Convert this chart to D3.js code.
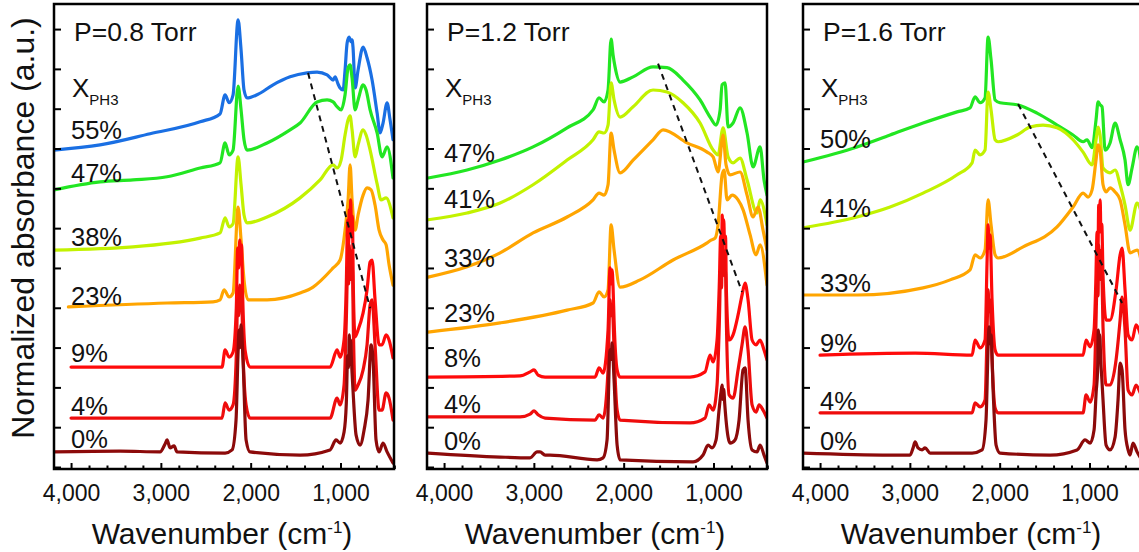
<!DOCTYPE html>
<html>
<head>
<meta charset="utf-8">
<script src="https://cdn.jsdelivr.net/npm/d3@7"></script>
<style>
  html, body { margin: 0; padding: 0; background: #ffffff; }
  svg { display: block; font-family: Arial, "Liberation Sans", sans-serif; }
</style>
</head>
<body>
<svg id="chart" width="1139" height="552"></svg>
<script>
// ---------- data: FTIR spectra, [wavenumber (cm-1), normalized absorbance + offset] ----------

// Common axis settings
const wavenumberDomain = [4190, 404];
const majorTicks = [4000, 3000, 2000, 1000];
const minorTicks = d3.range(4000, 399, -200);
const absorbanceTicks = d3.range(0, 12);

const pressureLabels = ["P=0.8 Torr", "P=1.2 Torr", "P=1.6 Torr"];

// ---- P = 0.8 Torr ----
const p08Fractions = ["55%", "47%", "38%", "23%", "9%", "4%", "0%"];
const p08LabelLevels = [8.24, 7.16, 5.55, 4.07, 2.64, 1.31, 0.48];
const p08_55 = [[4189,7.96],[3677,8.09],[3120,8.37],[2563,8.67],[2341,8.87],[2285,9.35],[2240,9.15],[2196,9.35],[2140,11.23],[2107,10.48],[2074,9.47],[2040,9.27],[1929,9.35],[1750,9.60],[1561,9.80],[1372,9.90],[1261,9.92],[1149,9.85],[1082,9.72],[1060,9.80],[1027,9.62],[1004,9.52],[971,9.47],[949,9.97],[926,10.65],[904,10.80],[882,10.68],[871,10.73],[860,10.53],[837,9.52],[804,9.97],[748,10.55],[704,10.28],[648,9.72],[592,8.89],[559,8.39],[526,8.64],[481,9.15],[448,8.72],[415,8.22]];
const p08_47 = [[4189,6.96],[3677,7.16],[3310,7.21],[2931,7.29],[2563,7.51],[2341,7.64],[2285,8.14],[2240,7.84],[2196,7.96],[2140,9.57],[2107,8.97],[2074,8.22],[2040,7.96],[1817,8.14],[1561,8.47],[1450,8.64],[1261,9.17],[1149,9.22],[1082,9.17],[1038,9.05],[993,8.97],[949,9.35],[915,10.03],[893,10.10],[871,9.77],[837,8.97],[804,9.22],[748,9.60],[715,9.47],[670,8.97],[592,8.39],[537,7.79],[481,8.04],[415,7.26]];
const p08_38 = [[4189,5.45],[3310,5.53],[2563,5.75],[2341,5.88],[2285,6.26],[2240,6.03],[2196,6.11],[2140,7.79],[2107,7.09],[2074,6.33],[2040,6.13],[1817,6.28],[1450,6.76],[1227,7.21],[1082,7.59],[1038,7.51],[993,7.71],[949,8.34],[915,8.72],[893,8.82],[871,8.47],[837,7.79],[804,8.09],[748,8.47],[715,8.34],[670,7.96],[592,7.11],[548,6.71],[492,6.76],[415,6.26]];
const p08_23 = [[4030,4.02],[2931,4.12],[2419,4.15],[2341,4.20],[2296,4.45],[2240,4.27],[2196,4.37],[2140,6.53],[2107,5.70],[2074,4.70],[2029,4.20],[1817,4.20],[1450,4.37],[1305,4.52],[1082,5.00],[1004,5.20],[949,5.95],[915,6.71],[893,7.59],[871,6.71],[837,5.95],[804,6.33],[748,6.83],[704,7.01],[659,6.96],[615,6.58],[570,5.95],[526,5.70],[492,5.58],[459,5.08],[415,4.57]];
const p08_9 = [[4000,2.51],[3120,2.51],[2319,2.51],[2285,2.94],[2240,2.76],[2196,2.89],[2160,4.00],[2145,5.50],[2133,5.00],[2122,5.70],[2112,5.20],[2102,5.58],[2088,4.20],[2060,2.90],[2007,2.51],[1116,2.51],[1038,2.94],[1004,2.76],[960,3.19],[935,4.60],[920,6.20],[910,5.60],[902,6.46],[894,5.80],[886,6.71],[878,5.90],[868,6.30],[856,4.40],[837,3.27],[804,3.44],[748,3.87],[704,4.45],[670,5.15],[648,5.20],[615,4.20],[570,3.07],[537,3.07],[492,3.32],[459,3.19],[415,2.74]];
const p08_4 = [[4000,1.23],[2319,1.23],[2285,1.61],[2240,1.43],[2196,1.56],[2160,2.80],[2145,4.20],[2133,3.80],[2122,4.57],[2112,4.00],[2102,4.45],[2088,3.07],[2051,1.56],[2007,1.23],[1116,1.23],[1038,1.73],[1004,1.56],[960,2.06],[935,3.70],[920,5.00],[910,4.60],[902,5.58],[894,4.80],[886,5.45],[878,4.70],[868,5.00],[856,3.40],[837,1.93],[804,2.06],[748,2.44],[704,3.07],[670,4.07],[648,4.20],[615,3.07],[570,1.43],[537,1.43],[492,1.86],[459,1.73],[415,1.18]];
const p08_0 = [[4189,0.38],[3454,0.40],[3009,0.38],[2953,0.58],[2931,0.68],[2898,0.48],[2853,0.53],[2820,0.38],[2285,0.35],[2207,0.43],[2163,1.18],[2140,2.90],[2129,3.44],[2118,3.00],[2107,3.57],[2085,2.69],[2051,0.68],[2007,0.38],[1450,0.30],[1116,0.43],[1049,0.68],[1004,0.60],[960,0.88],[935,1.60],[920,2.80],[910,2.50],[902,3.32],[894,2.70],[886,3.19],[876,2.60],[862,2.00],[826,0.80],[782,0.55],[737,0.93],[693,1.68],[659,3.07],[637,2.69],[604,0.68],[570,0.38],[526,0.60],[481,0.38],[415,0.10]];
const p08Guide = [[1361,9.90],[670,3.99]];

// ---- P = 1.2 Torr ----
const p12Fractions = ["47%", "41%", "33%", "23%", "8%", "4%", "0%"];
const p12LabelLevels = [7.66, 6.51, 5.03, 3.64, 2.51, 1.36, 0.43];
const p12_47 = [[4178,7.26],[3744,7.46],[3376,7.71],[3009,8.04],[2630,8.52],[2341,8.97],[2274,9.27],[2218,9.17],[2174,9.47],[2140,10.75],[2118,10.35],[2096,10.05],[2040,9.67],[1895,9.80],[1673,10.05],[1517,10.03],[1339,9.72],[1149,9.22],[1038,8.79],[971,8.59],[926,8.97],[904,9.60],[871,9.65],[837,8.54],[782,8.64],[704,9.02],[626,8.39],[559,7.54],[481,8.04],[437,7.21],[404,6.83]];
const p12_41 = [[4178,6.21],[3744,6.38],[3376,6.63],[3009,7.09],[2630,7.71],[2341,8.22],[2274,8.42],[2218,8.39],[2174,8.59],[2140,9.65],[2107,9.22],[2040,8.79],[1895,9.05],[1673,9.47],[1517,9.42],[1339,9.15],[1149,8.64],[1004,7.96],[949,7.84],[893,8.52],[837,7.79],[782,7.64],[704,7.76],[626,7.21],[515,6.38],[481,6.71],[404,6.08]];
const p12_33 = [[4178,4.77],[3744,5.03],[3376,5.38],[3009,5.88],[2630,6.28],[2341,6.71],[2274,6.88],[2218,6.83],[2174,7.09],[2140,8.39],[2107,7.96],[2040,7.39],[1895,7.71],[1673,8.22],[1561,8.47],[1294,8.14],[1071,7.91],[1004,7.79],[949,7.41],[893,8.34],[860,7.59],[815,7.34],[704,7.41],[626,6.83],[559,6.28],[504,6.53],[448,5.95],[404,5.45]];
const p12_23 = [[4178,3.39],[3376,3.62],[2630,3.94],[2341,4.12],[2274,4.40],[2218,4.27],[2174,4.45],[2140,6.08],[2107,5.45],[2040,4.52],[1817,4.70],[1450,5.20],[1071,5.63],[1027,5.70],[982,5.75],[949,6.08],[904,7.34],[882,7.46],[849,6.71],[793,6.83],[726,6.71],[670,6.46],[592,5.83],[526,5.33],[481,5.58],[404,4.57]];
const p12_8 = [[4178,2.26],[3154,2.29],[3042,2.39],[2998,2.44],[2953,2.31],[2875,2.26],[2319,2.26],[2274,2.49],[2229,2.36],[2174,3.44],[2152,5.00],[2140,4.60],[2129,4.95],[2118,4.50],[2107,3.69],[2073,2.44],[2040,2.26],[1261,2.26],[1094,2.39],[1038,2.81],[1004,2.64],[960,3.19],[935,4.60],[920,5.80],[910,5.40],[902,6.33],[894,5.70],[886,6.21],[876,5.60],[866,5.80],[856,4.40],[826,3.19],[782,3.32],[726,3.82],[682,4.32],[648,4.62],[615,4.20],[570,3.19],[526,3.07],[481,3.19],[437,2.94],[404,2.69]];
const p12_4 = [[4178,1.26],[3154,1.26],[3042,1.33],[2998,1.41],[2953,1.31],[2875,1.23],[2319,1.18],[2274,1.31],[2229,1.23],[2174,2.44],[2152,4.20],[2140,3.80],[2129,4.07],[2118,3.70],[2107,2.94],[2073,1.43],[2040,1.18],[1261,1.11],[1094,1.23],[1049,1.56],[1004,1.43],[960,2.06],[935,3.60],[920,4.90],[910,4.50],[902,5.70],[894,4.90],[886,5.45],[876,4.80],[866,4.90],[856,3.60],[826,1.81],[782,1.73],[726,2.44],[682,3.07],[648,3.52],[615,2.94],[570,1.56],[526,1.38],[492,1.56],[448,1.43],[404,1.23]];
const p12_0 = [[4178,0.35],[3376,0.25],[3042,0.23],[2964,0.38],[2931,0.38],[2875,0.30],[2820,0.30],[2296,0.18],[2229,0.23],[2185,0.68],[2152,2.94],[2140,2.70],[2129,3.12],[2107,2.19],[2073,0.55],[2040,0.18],[1227,0.13],[1116,0.30],[1060,0.55],[1016,0.48],[971,0.68],[938,1.43],[915,1.90],[904,2.06],[895,1.70],[886,1.95],[875,1.60],[860,1.18],[815,0.60],[760,0.68],[715,1.18],[671,2.44],[648,2.49],[615,1.18],[570,0.43],[515,0.38],[481,0.55],[437,0.30],[404,0.10]];
const p12Guide = [[1617,10.13],[682,4.40]];

// ---- P = 1.6 Torr ----
const p16Fractions = ["50%", "41%", "33%", "9%", "4%", "0%"];
const p16LabelLevels = [8.02, 6.28, 4.40, 2.89, 1.43, 0.43];
const p16_50 = [[4189,7.66],[3588,8.04],[3220,8.34],[2853,8.64],[2474,8.92],[2330,9.02],[2274,9.30],[2218,9.15],[2163,9.27],[2129,10.80],[2096,10.23],[2051,9.22],[1996,9.15],[1806,9.10],[1584,8.89],[1361,8.59],[1183,8.34],[1071,8.17],[1027,8.22],[971,8.02],[927,8.72],[904,9.17],[882,9.10],[860,9.05],[826,7.96],[771,8.14],[715,8.64],[659,8.22],[604,7.71],[570,7.09],[526,7.51],[470,8.04],[404,7.21]];
const p16_41 = [[4189,6.01],[3588,6.28],[3220,6.53],[2853,6.88],[2474,7.34],[2307,7.64],[2274,7.96],[2218,7.84],[2163,7.96],[2129,9.42],[2096,8.97],[2051,8.22],[2018,8.17],[1806,8.34],[1661,8.54],[1517,8.59],[1361,8.52],[1183,8.22],[1071,7.91],[971,7.59],[927,8.22],[904,8.54],[882,8.34],[849,7.51],[771,7.39],[715,7.46],[659,7.09],[604,6.58],[548,5.95],[470,6.63],[404,6.21]];
const p16_33 = [[4189,4.32],[3588,4.32],[2853,4.50],[2552,4.70],[2330,4.95],[2274,5.33],[2218,5.25],[2163,5.45],[2129,6.71],[2096,6.08],[2051,5.33],[2018,5.25],[1739,5.53],[1361,6.03],[1183,6.53],[1071,6.88],[1016,6.78],[971,6.96],[927,7.71],[904,8.09],[882,7.96],[849,7.09],[815,6.91],[771,7.01],[715,6.91],[659,6.71],[604,6.08],[548,5.38],[470,5.45],[404,4.95]];
const p16_9 = [[4000,2.81],[2942,2.86],[2307,2.81],[2274,3.19],[2218,2.99],[2163,3.19],[2140,5.20],[2129,6.08],[2118,5.50],[2107,5.83],[2085,4.20],[2051,2.94],[2018,2.81],[1071,2.81],[1038,3.19],[993,3.02],[949,3.44],[930,4.60],[915,5.90],[905,5.50],[897,6.58],[889,5.90],[881,6.71],[873,5.90],[863,6.10],[849,4.80],[815,3.69],[771,3.69],[704,4.45],[659,5.33],[637,5.50],[604,4.45],[570,3.32],[526,3.19],[481,3.57],[448,3.44],[404,3.07]];
const p16_4 = [[4000,1.36],[2307,1.36],[2274,1.61],[2218,1.51],[2163,1.68],[2140,3.44],[2129,4.45],[2118,3.90],[2107,4.20],[2085,2.69],[2051,1.48],[2018,1.36],[1071,1.36],[1038,1.81],[993,1.63],[949,2.06],[930,3.40],[915,4.60],[905,4.30],[897,5.58],[889,4.80],[881,5.45],[873,4.70],[863,4.80],[849,3.50],[815,2.06],[771,2.06],[704,2.69],[659,3.69],[637,4.27],[604,3.44],[570,1.93],[526,1.81],[481,2.06],[448,1.93],[404,1.68]];
const p16_0 = [[4189,0.35],[3220,0.30],[2998,0.30],[2964,0.48],[2942,0.63],[2909,0.48],[2864,0.43],[2831,0.48],[2775,0.35],[2307,0.35],[2196,0.43],[2152,1.18],[2129,3.00],[2118,3.52],[2107,3.10],[2096,3.32],[2073,1.93],[2040,0.55],[1996,0.35],[1439,0.30],[1138,0.43],[1049,0.68],[993,0.60],[949,0.93],[925,1.90],[910,2.40],[901,3.44],[893,2.80],[885,3.32],[875,2.70],[862,2.20],[849,1.68],[815,0.55],[771,0.43],[715,0.75],[682,1.68],[659,2.61],[637,2.44],[604,0.93],[570,0.43],[548,0.30],[515,0.60],[470,0.38],[404,0.13]];
const p16Guide = [[1795,9.12],[637,4.12]];

// Colours by PH3 fraction family (high → low)
const palette = {
  blue: "#1a6fe3", green: "#22e622", lime: "#c2f200",
  orange: "#ffa500", red: "#ff0a0a", red2: "#ee0c0c", dark: "#8c0a0a"
};

// Series lists, drawn top curve first so lower curves sit on top
const panelSeries = [
  [[p08_55, palette.blue], [p08_47, palette.green], [p08_38, palette.lime], [p08_23, palette.orange], [p08_9, palette.red], [p08_4, palette.red2], [p08_0, palette.dark]],
  [[p12_47, palette.green], [p12_41, palette.lime], [p12_33, palette.orange], [p12_23, palette.orange], [p12_8, palette.red], [p12_4, palette.red2], [p12_0, palette.dark]],
  [[p16_50, palette.green], [p16_41, palette.lime], [p16_33, palette.orange], [p16_9, palette.red], [p16_4, palette.red2], [p16_0, palette.dark]]
];
const panelFractions = [p08Fractions, p12Fractions, p16Fractions];
const panelLabelLevels = [p08LabelLevels, p12LabelLevels, p16LabelLevels];
const panelGuides = [p08Guide, p12Guide, p16Guide];

// ---------- layout ----------
const svg = d3.select("#chart");
const panelLefts = [54, 427, 803];
const panelTop = 4, panelW = 340, panelH = 465;

const x = d3.scaleLinear().domain(wavenumberDomain).range([0, panelW]);
const y = d3.scaleLinear().domain([-0.05, 11.63]).range([panelH, 0]);

const line = d3.line()
  .x(d => x(d[0]))
  .y(d => y(d[1]))
  .curve(d3.curveMonotoneX);

svg.append("defs").append("clipPath").attr("id", "plotClip")
  .append("rect").attr("width", panelW).attr("height", panelH);

panelLefts.forEach((left, i) => {
  const g = svg.append("g").attr("transform", `translate(${left},${panelTop})`);

  // spectra
  const plot = g.append("g").attr("clip-path", "url(#plotClip)");
  panelSeries[i].forEach(([data, color]) => {
    plot.append("path")
      .attr("d", line(data))
      .attr("fill", "none")
      .attr("stroke", color)
      .attr("stroke-width", 3.2)
      .attr("stroke-linejoin", "round")
      .attr("stroke-linecap", "round");
  });

  // dashed guide across the broad band maxima
  plot.append("path")
    .attr("d", d3.line().x(d => x(d[0])).y(d => y(d[1]))(panelGuides[i]))
    .attr("fill", "none")
    .attr("stroke", "#111")
    .attr("stroke-width", 2)
    .attr("stroke-dasharray", "6,5");

  // bottom axis: major labelled ticks + minor ticks, pointing inward
  const xAxis = g.append("g").attr("transform", `translate(0,${panelH})`)
    .call(d3.axisBottom(x).tickValues(majorTicks).tickSize(-6).tickPadding(16)
      .tickFormat(d3.format(",")));
  xAxis.select(".domain").remove();
  xAxis.selectAll("line").attr("stroke", "#000").attr("stroke-width", 2);
  xAxis.selectAll("text").attr("font-size", 23).attr("fill", "#111")
    .attr("font-family", 'Arial, "Liberation Sans", sans-serif');

  const xMinor = g.append("g").attr("transform", `translate(0,${panelH})`)
    .call(d3.axisBottom(x).tickValues(minorTicks.filter(v => !majorTicks.includes(v)))
      .tickSize(-3.5).tickFormat(""));
  xMinor.select(".domain").remove();
  xMinor.selectAll("line").attr("stroke", "#000").attr("stroke-width", 2);

  // left axis ticks, inward, unlabelled
  const yAxis = g.append("g")
    .call(d3.axisLeft(y).tickValues(absorbanceTicks).tickSize(-7).tickFormat(""));
  yAxis.select(".domain").remove();
  yAxis.selectAll("line").attr("stroke", "#000").attr("stroke-width", 2);

  // frame
  g.append("rect")
    .attr("width", panelW).attr("height", panelH)
    .attr("fill", "none").attr("stroke", "#000").attr("stroke-width", 2.5);

  // pressure label
  g.append("text")
    .attr("x", 20).attr("y", 37)
    .attr("font-size", 26.5).attr("fill", "#111")
    .text(pressureLabels[i]);

  // X_PH3 heading
  const xh = g.append("text")
    .attr("x", 18).attr("y", 93)
    .attr("font-size", 26).attr("fill", "#111");
  xh.append("tspan").text("X");
  xh.append("tspan").attr("dy", 8).attr("font-size", 15).text("PH3");

  // fraction labels
  panelFractions[i].forEach((label, k) => {
    g.append("text")
      .attr("x", 17)
      .attr("y", y(panelLabelLevels[i][k]))
      .attr("font-size", 25.5).attr("fill", "#111")
      .text(label);
  });

  // x-axis title
  const t = g.append("text")
    .attr("x", panelW / 2 - 2).attr("y", panelH + 75)
    .attr("text-anchor", "middle")
    .attr("font-size", 30).attr("fill", "#111");
  t.append("tspan").text("Wavenumber (cm");
  t.append("tspan").attr("dy", -11).attr("font-size", 17).text("-1");
  t.append("tspan").attr("dy", 11).text(")");
});

// y-axis title
svg.append("text")
  .attr("transform", "translate(34,228) rotate(-90)")
  .attr("text-anchor", "middle")
  .attr("font-size", 32).attr("fill", "#111")
  .text("Normalized absorbance (a.u.)");
</script>
</body>
</html>
